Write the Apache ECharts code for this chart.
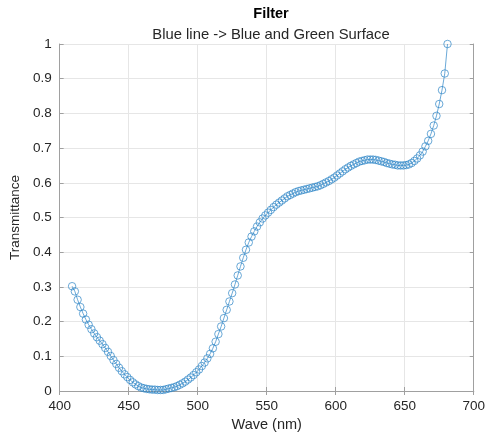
<!DOCTYPE html>
<html>
<head>
<meta charset="utf-8">
<title>Filter</title>
<script src="https://cdn.jsdelivr.net/npm/echarts@6/dist/echarts.min.js"></script>
<style>
  html, body { margin: 0; padding: 0; background: #ffffff; }
  #chart { width: 488px; height: 439px; }
</style>
</head>
<body>
<div id="chart"></div>
<script>
// Sampled wavelengths (nm) of the filter curve
const wavelengths = [
  409, 411, 413, 415, 417, 419, 421, 423, 425, 427, 429, 431, 433, 435, 437, 439,
  441, 443, 445, 447, 449, 451, 453, 455, 457, 459, 461, 463, 465, 467, 469, 471,
  473, 475, 477, 479, 481, 483, 485, 487, 489, 491, 493, 495, 497, 499, 501, 503,
  505, 507, 509, 511, 513, 515, 517, 519, 521, 523, 525, 527, 529, 531, 533, 535,
  537, 539, 541, 543, 545, 547, 549, 551, 553, 555, 557, 559, 561, 563, 565, 567,
  569, 571, 573, 575, 577, 579, 581, 583, 585, 587, 589, 591, 593, 595, 597, 599,
  601, 603, 605, 607, 609, 611, 613, 615, 617, 619, 621, 623, 625, 627, 629, 631,
  633, 635, 637, 639, 641, 643, 645, 647, 649, 651, 653, 655, 657, 659, 661, 663,
  665, 667, 669, 671, 673, 675, 677, 679, 681
];

// Transmittance at each wavelength
const transmittance = [
  0.302, 0.287, 0.263, 0.242, 0.223, 0.206, 0.191, 0.178, 0.166, 0.155, 0.145, 0.135, 0.124, 0.113, 0.101, 0.089,
  0.078, 0.067, 0.057, 0.048, 0.040, 0.032, 0.025, 0.019, 0.014, 0.010, 0.008, 0.006, 0.005, 0.004, 0.004, 0.003,
  0.003, 0.003, 0.005, 0.007, 0.009, 0.011, 0.014, 0.018, 0.022, 0.027, 0.033, 0.039, 0.046, 0.054, 0.062, 0.072,
  0.082, 0.094, 0.107, 0.123, 0.142, 0.164, 0.186, 0.210, 0.234, 0.258, 0.282, 0.307, 0.333, 0.359, 0.384, 0.407,
  0.428, 0.445, 0.460, 0.474, 0.486, 0.497, 0.506, 0.514, 0.522, 0.530, 0.537, 0.543, 0.549, 0.555, 0.561, 0.565,
  0.569, 0.573, 0.576, 0.578, 0.580, 0.582, 0.584, 0.586, 0.588, 0.590, 0.593, 0.597, 0.601, 0.605, 0.610, 0.615,
  0.621, 0.627, 0.633, 0.639, 0.644, 0.649, 0.653, 0.657, 0.661, 0.663, 0.665, 0.667, 0.667, 0.667, 0.666, 0.664,
  0.662, 0.660, 0.657, 0.655, 0.653, 0.652, 0.650, 0.650, 0.650, 0.651, 0.653, 0.657, 0.663, 0.670, 0.679, 0.690,
  0.705, 0.721, 0.741, 0.765, 0.793, 0.827, 0.867, 0.915, 1.000
];

const titleText = 'Filter';
const subtitleText = 'Blue line -> Blue and Green Surface';
const xName = 'Wave (nm)';
const yName = 'Transmittance';

const FONT = "'Liberation Sans', Arial, Helvetica, sans-serif";
const AXIS_GRAY = '#a0a0a0';
const TEXT = '#262626';
const LINE_BLUE = '#2b84c6';

const points = wavelengths.map((w, i) => [w, transmittance[i]]);

const frameAxis = {
  axisLine: { show: true, lineStyle: { color: AXIS_GRAY, width: 1 } },
  axisTick: { show: true, inside: true, length: 4, lineStyle: { color: AXIS_GRAY } },
  axisLabel: { show: false },
  splitLine: { show: false }
};

const chart = echarts.init(document.getElementById('chart'), null, { renderer: 'canvas' });
chart.setOption({
  animation: false,
  backgroundColor: '#ffffff',
  title: [
    {
      text: titleText,
      left: 266, top: 1, textAlign: 'center',
      textStyle: { fontFamily: FONT, fontSize: 14.5, fontWeight: 'bold', color: '#000000' }
    },
    {
      text: subtitleText,
      left: 266, top: 22, textAlign: 'center',
      textStyle: { fontFamily: FONT, fontSize: 14.8, fontWeight: 'normal', color: TEXT }
    }
  ],
  grid: { left: 54, right: 11, top: 44, bottom: 48, containLabel: false },
  xAxis: [
    {
      type: 'value', min: 400, max: 700, interval: 50, position: 'bottom',
      name: xName, nameLocation: 'middle', nameGap: 25,
      nameTextStyle: { fontFamily: FONT, fontSize: 14.5, color: TEXT },
      axisLine: { show: true, lineStyle: { color: AXIS_GRAY, width: 1 } },
      axisTick: { show: true, inside: true, length: 4, lineStyle: { color: AXIS_GRAY } },
      axisLabel: { fontFamily: FONT, fontSize: 13.5, color: TEXT, margin: 8 },
      splitLine: { show: true, lineStyle: { color: '#e6e6e6', width: 1 } }
    },
    Object.assign({ type: 'value', min: 400, max: 700, interval: 50, position: 'top' }, frameAxis)
  ],
  yAxis: [
    {
      type: 'value', min: 0, max: 1, interval: 0.1, position: 'left',
      name: yName, nameLocation: 'middle', nameGap: 28,
      nameTextStyle: { fontFamily: FONT, fontSize: 13.5, color: TEXT },
      axisLine: { show: true, lineStyle: { color: AXIS_GRAY, width: 1 } },
      axisTick: { show: true, inside: true, length: 4, lineStyle: { color: AXIS_GRAY } },
      axisLabel: { fontFamily: FONT, fontSize: 13.5, color: TEXT, margin: 8 },
      splitLine: { show: true, lineStyle: { color: '#e6e6e6', width: 1 } }
    },
    Object.assign({ type: 'value', min: 0, max: 1, interval: 0.1, position: 'right' }, frameAxis)
  ],
  series: [
    {
      type: 'line',
      xAxisIndex: 0,
      yAxisIndex: 0,
      data: points,
      symbol: 'circle',
      symbolSize: 7.5,
      showAllSymbol: true,
      lineStyle: { color: LINE_BLUE, width: 0.7 },
      itemStyle: { color: 'rgba(0,0,0,0)', borderColor: LINE_BLUE, borderWidth: 0.7 },
      emphasis: { disabled: true }
    }
  ]
});
</script>
</body>
</html>
